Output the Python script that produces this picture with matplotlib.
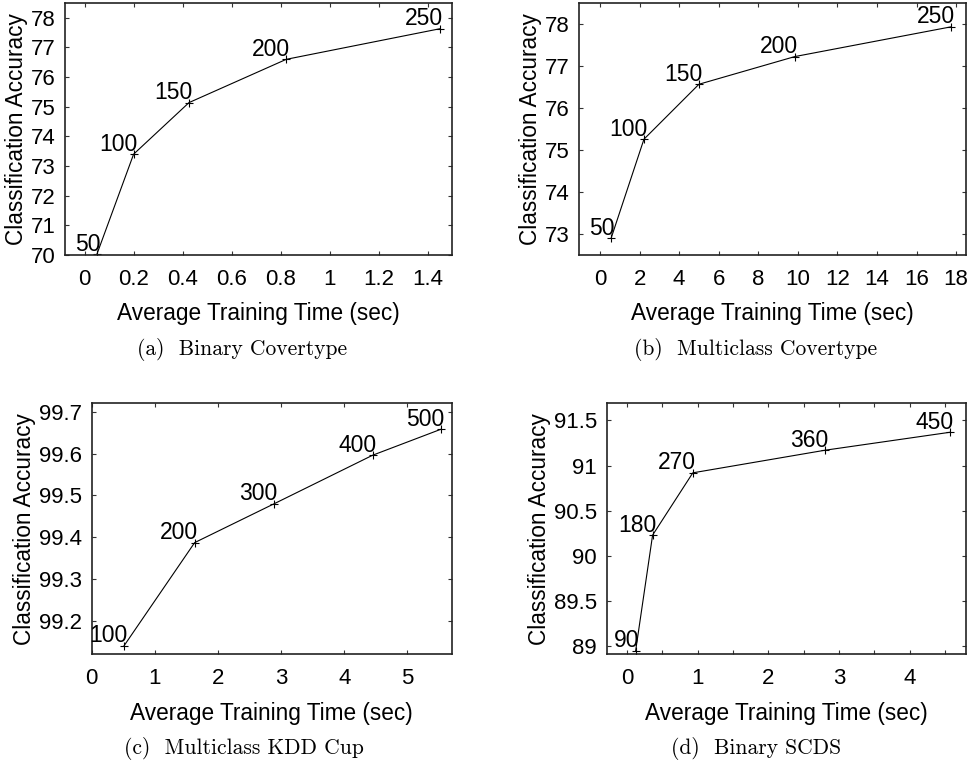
import matplotlib.pyplot as plt
from matplotlib.ticker import FormatStrFormatter, MultipleLocator

# (a) Binary Covertype
cov_bin_time = [0.05, 0.20, 0.426, 0.823, 1.449]
cov_bin_acc = [70.02, 73.40, 75.14, 76.60, 77.63]
cov_bin_trees = [50, 100, 150, 200, 250]

# (b) Multiclass Covertype
cov_multi_time = [0.56, 2.22, 5.00, 9.85, 17.76]
cov_multi_acc = [72.90, 75.26, 76.57, 77.23, 77.94]
cov_multi_trees = [50, 100, 150, 200, 250]

# (c) Multiclass KDD Cup
kdd_time = [0.51, 1.63, 2.89, 4.45, 5.53]
kdd_acc = [99.14, 99.387, 99.48, 99.596, 99.658]
kdd_trees = [100, 200, 300, 400, 500]

# (d) Binary SCDS
scds_time = [0.12, 0.36, 0.93, 2.80, 4.58]
scds_acc = [88.95, 90.23, 90.92, 91.17, 91.37]
scds_trees = [90, 180, 270, 360, 450]

captions = ["(a)  Binary Covertype", "(b)  Multiclass Covertype",
            "(c)  Multiclass KDD Cup", "(d)  Binary SCDS"]

plt.rcParams['font.family'] = ['Liberation Sans', 'DejaVu Sans']

fig = plt.figure(figsize=(9.8, 7.65), dpi=100)

panels = [
    ([0.0663, 0.6667, 0.3952, 0.3294], cov_bin_time, cov_bin_acc, cov_bin_trees,
     (-0.08, 1.5), (70, 78.5), 0.2, 1, None),
    ([0.5911, 0.6667, 0.3946, 0.3290], cov_multi_time, cov_multi_acc, cov_multi_trees,
     (-1.05, 18.5), (72.5, 78.5), 2, 1, None),
    ([0.0936, 0.1447, 0.3673, 0.3281], kdd_time, kdd_acc, kdd_trees,
     (0, 5.7), (99.12, 99.72), 1, 0.1, None),
    ([0.6191, 0.1447, 0.3666, 0.3281], scds_time, scds_acc, scds_trees,
     (-0.29, 4.8), (88.91, 91.69), 1, 0.5, 0.5),
]

cap_pos = [(241.7, 350), (755.8, 350), (244, 748), (756, 748)]

for (rect, t, acc, trees, xl, yl, xstep, ystep, xminor), (cx, cy), cap in zip(panels, cap_pos, captions):
    ax = fig.add_axes(rect)
    ax.plot(t, acc, color='black', lw=0.8, marker='+', ms=5.5, mew=0.8)
    for x, y, n in zip(t, acc, trees):
        ax.annotate(str(n), (x, y), xytext=(2.5, 2.5), textcoords='offset points',
                    ha='right', va='baseline', fontsize=16.5)
    ax.set_xlim(xl)
    ax.set_ylim(yl)
    ax.xaxis.set_major_locator(MultipleLocator(xstep))
    ax.yaxis.set_major_locator(MultipleLocator(ystep))
    if xminor:
        ax.xaxis.set_minor_locator(MultipleLocator(xminor))
        ax.tick_params(axis='x', which='minor', direction='in', top=True,
                       length=3, width=0.8, color='#333333')
    ax.xaxis.set_major_formatter(FormatStrFormatter('%g'))
    ax.yaxis.set_major_formatter(FormatStrFormatter('%g'))
    ax.tick_params(which='major', direction='in', top=True, right=True,
                   length=3, width=0.8, color='#333333', labelsize=16)
    ax.tick_params(axis='x', pad=10)
    ax.tick_params(axis='y', pad=7)
    for s in ax.spines.values():
        s.set_linewidth(1.2)
        s.set_color('#222222')
    ax.set_xlabel('Average Training Time (sec)', fontsize=16.3, labelpad=9)
    ax.set_ylabel('Classification Accuracy', fontsize=16.3, labelpad=2)
    fig.text(cx / 980, 1 - cy / 765, cap, family='cmr10', fontsize=15.5,
             ha='center', va='center')

fig.savefig('out.png', dpi=100)
